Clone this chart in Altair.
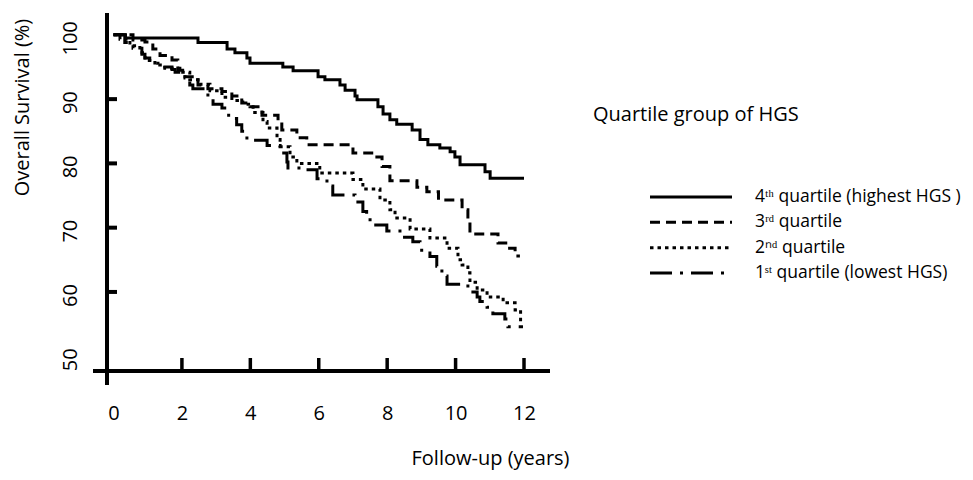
import altair as alt
import pandas as pd

# ---- data ----
groups = ["4ᵗʰ quartile (highest HGS )", "3ʳᵈ quartile", "2ⁿᵈ quartile", "1ˢᵗ  quartile (lowest HGS)"]
legend_title = ["Quartile group of HGS"]
x_title = "Follow-up (years)"
y_title = "Overall Survival (%)"
x_tick_values = [0, 2, 4, 6, 8, 10, 12]
y_tick_values = [50, 60, 70, 80, 90, 100]
x_tick_marks = [2, 4, 6, 8, 10, 12]
y_tick_marks = [60, 70, 80, 90]

t4 = [0, 0.35, 2.47, 3.32, 3.55, 3.90, 3.99, 4.95, 5.25, 5.98, 6.18, 6.62, 6.77, 7.06, 7.12, 7.73, 7.88,
      8.08, 8.28, 8.73, 8.96, 9.19, 9.54, 9.84, 9.98, 10.13, 10.86, 11.01, 12.0]
s4 = [100, 99.5, 98.8, 97.8, 97.2, 96.4, 95.6, 95.0, 94.4, 93.5, 93.0, 92.2, 91.4, 90.5, 89.9, 88.8, 87.7,
      86.8, 86.1, 85.2, 83.7, 82.9, 82.4, 81.8, 81.0, 79.8, 78.7, 77.7, 77.7]

t3 = [0, 0.57, 0.92, 1.15, 1.36, 1.71, 1.88, 2.09, 2.47, 2.76, 3.17, 3.46, 3.75, 3.99, 4.34, 4.81, 4.92,
      5.36, 5.65, 7.00, 7.64, 7.85, 8.08, 8.87, 9.16, 9.50, 10.19, 10.36, 10.42, 11.24, 11.53, 11.74, 11.88]
s3 = [100, 99.2, 98.9, 97.8, 96.8, 96.1, 94.5, 93.5, 92.2, 91.6, 91.2, 90.5, 89.4, 88.8, 87.5, 86.5, 85.2,
      84.0, 82.9, 81.6, 81.0, 79.5, 77.3, 76.3, 75.6, 74.3, 72.8, 70.9, 69.0, 67.6, 66.8, 65.6, 65.6]

t2 = [0, 0.19, 0.48, 0.77, 0.92, 1.21, 1.50, 1.94, 2.23, 2.53, 2.82, 3.17, 3.46, 3.78, 4.08, 4.37, 4.49,
      4.78, 4.87, 5.16, 5.36, 6.03, 7.00, 7.29, 7.79, 8.08, 8.23, 8.67, 9.25, 9.75, 10.07, 10.19, 10.36,
      10.42, 10.63, 10.92, 11.39, 11.74, 11.90, 11.97]
s2 = [100, 99.3, 98.3, 97.2, 96.0, 95.3, 94.8, 94.2, 93.0, 92.3, 91.3, 90.3, 89.8, 89.2, 87.9, 86.5, 85.5,
      83.7, 82.6, 81.0, 80.0, 78.5, 77.5, 76.0, 74.3, 72.8, 71.5, 69.8, 68.4, 66.8, 65.0, 64.2, 63.0,
      61.5, 60.3, 59.2, 58.3, 57.2, 55.3, 55.3]

t1 = [0, 0.33, 0.57, 0.83, 0.92, 1.06, 1.30, 1.71, 1.80, 2.09, 2.23, 2.32, 2.76, 2.91, 3.17, 3.32, 3.46,
      3.60, 3.75, 3.90, 4.49, 4.87, 5.07, 5.10, 5.54, 5.95, 6.24, 6.41, 7.06, 7.29, 7.40, 7.50, 7.99, 8.46,
      8.75, 8.96, 9.25, 9.45, 9.60, 9.75, 10.36, 10.63, 10.71, 10.92, 11.09, 11.44, 11.53, 11.97]
s1 = [100, 98.8, 97.9, 97.0, 96.4, 95.6, 95.0, 94.6, 94.2, 93.3, 92.2, 91.6, 90.2, 89.2, 88.6, 87.5, 87.0,
      86.0, 85.0, 83.6, 82.8, 81.6, 80.2, 79.3, 79.0, 77.6, 76.5, 75.1, 74.0, 72.5, 71.5, 70.4, 69.5, 68.5,
      67.8, 66.5, 65.5, 64.0, 62.5, 61.2, 60.0, 59.2, 58.5, 57.6, 56.6, 55.8, 54.6, 54.6]

# ---- tables ----
rows = []
for g, ts, ss in zip(groups, [t4, t3, t2, t1], [s4, s3, s2, s1]):
    for t, s in zip(ts, ss):
        rows.append({"group": g, "t": t, "s": s})
df = pd.DataFrame(rows)
legend_df = pd.DataFrame({"group": groups})
xt_df = pd.DataFrame({"t": x_tick_marks})
yt_df = pd.DataFrame({"v": y_tick_marks})
one = pd.DataFrame({"a": [0]})
title_df = pd.DataFrame({"txt": legend_title})

FONT = "Open Sans"
W, H = 443, 358

xscale = alt.Scale(domain=[-0.19, 12.76], nice=False, zero=False)
yscale = alt.Scale(domain=[47.7, 103.4], nice=False, zero=False)
dash = alt.Scale(domain=groups, range=[[1, 0], [10, 6], [3.5, 4], [22, 8, 3, 8]])
legy = alt.Scale(type="point", domain=groups, range=[184, 260], padding=0)

xaxis = alt.Axis(
    values=x_tick_values, domain=False, ticks=False, grid=False,
    labelFont=FONT, labelFontSize=20, labelColor="black", labelPadding=42,
    labelBaseline="middle",
    title=x_title, titleFont=FONT, titleFontSize=20, titleFontWeight="normal",
    titleColor="black", titleX=383, titleY=87, titleBaseline="middle", titleAlign="center")
yaxis = alt.Axis(
    values=y_tick_values, domain=False, ticks=False, grid=False,
    labelFont=FONT, labelFontSize=20, labelColor="black", labelPadding=37,
    labelAngle=270, labelAlign="center", labelBaseline="middle", labelOffset=3,
    title=y_title, titleFont=FONT, titleFontSize=20, titleFontWeight="normal",
    titleColor="black", titleX=-85, titleY=94, titleAngle=270,
    titleBaseline="middle", titleAlign="center")

lines = alt.Chart(df).mark_line(interpolate="step-after", color="black", strokeWidth=3).encode(
    x=alt.X("t:Q", scale=xscale, axis=xaxis),
    y=alt.Y("s:Q", scale=yscale, axis=yaxis),
    strokeDash=alt.StrokeDash("group:N", scale=dash, legend=None),
)

xticks = alt.Chart(xt_df).mark_rule(color="black", strokeWidth=3.5).encode(
    x=alt.X("t:Q", scale=xscale, axis=xaxis), y=alt.value(H), y2=alt.value(H - 13))
yticks = alt.Chart(yt_df).mark_rule(color="black", strokeWidth=4).encode(
    y=alt.Y("v:Q", scale=yscale, axis=None), x=alt.value(0), x2=alt.value(10))

yline = alt.Chart(one).mark_rule(color="black", strokeWidth=4).encode(
    x=alt.value(0), y=alt.value(0), y2=alt.value(H + 14))
xline = alt.Chart(one).mark_rule(color="black", strokeWidth=4).encode(
    x=alt.value(-14), x2=alt.value(W), y=alt.value(H))

leg_rules = alt.Chart(legend_df).mark_rule(color="black", strokeWidth=3).encode(
    x=alt.value(543), x2=alt.value(625),
    y=alt.Y("group:N", scale=legy, axis=None),
    strokeDash=alt.StrokeDash("group:N", scale=dash, legend=None))
leg_text = alt.Chart(legend_df).mark_text(
    align="left", baseline="middle", font=FONT, fontSize=17.5, color="black").encode(
    x=alt.value(648), y=alt.Y("group:N", scale=legy, axis=None), text="group:N")
leg_title = alt.Chart(title_df).mark_text(
    align="left", baseline="middle", font=FONT, fontSize=20, color="black").encode(
    x=alt.value(486), y=alt.value(102), text="txt:N")

chart = alt.layer(lines, xticks, yticks, yline, xline, leg_rules, leg_text, leg_title).resolve_scale(
    y="independent"
).properties(
    width=W, height=H,
    autosize=alt.AutoSizeParams(type="none"),
    padding={"left": 99, "top": 5, "right": 415, "bottom": 101},
).configure_view(stroke=None)

chart.save("out.html", embed_options={"renderer": "svg", "actions": False})
